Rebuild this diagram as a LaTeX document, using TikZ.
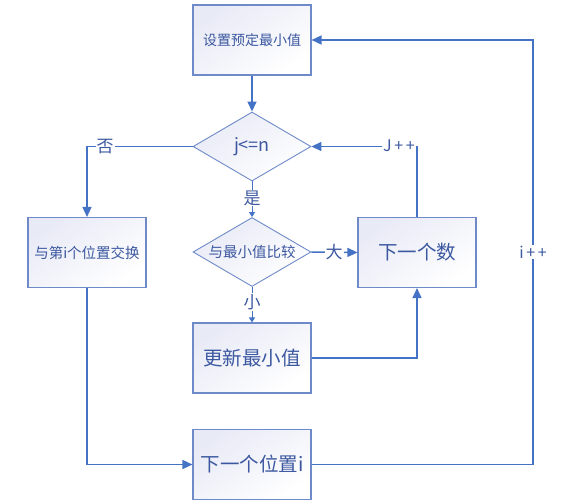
\documentclass[tikz,border=0pt]{standalone}
\usepackage{fontspec}
\setmainfont{Noto Sans CJK SC}
\usetikzlibrary{shapes.geometric,arrows.meta}
\definecolor{linec}{RGB}{68,114,196}
\definecolor{borderc}{RGB}{110,138,200}
\definecolor{txtc}{RGB}{60,88,160}
\definecolor{shadec}{RGB}{232,234,246}
\tikzset{
  boxnode/.style={rectangle, draw=borderc, line width=1.1pt, minimum width=118pt, minimum height=70pt, inner sep=0pt,
    shading=axis, top color=shadec, bottom color=white, shading angle=35, text=txtc},
  dianode/.style={diamond, draw=borderc, line width=0.9pt, minimum width=118pt, minimum height=69pt, inner sep=0pt,
    shading=axis, top color=shadec, bottom color=white, shading angle=35},
  conn/.style={draw=linec, line width=1.5pt, -{Triangle[length=10pt,width=9pt]}},
  connsmall/.style={draw=linec, line width=1pt, -{Triangle[length=5pt,width=6pt]}},
  lbl/.style={fill=white, text=txtc, inner sep=1pt, font=\fontsize{17}{17}\selectfont},
}
\begin{document}
\begin{tikzpicture}[x=1pt,y=-1pt]
\useasboundingbox (0,0) rectangle (574,504);
\node[boxnode, font=\fontsize{14}{14}\selectfont] (init) at (252,40) {设置预定最小值};
\node[dianode, label={[text=txtc, font=\fontsize{18}{18}\selectfont]center:j<=n}] (cond) at (252,146.5) {};
\node[dianode, label={[text=txtc, font=\fontsize{14.5}{14.5}\selectfont]center:与最小值比较}] (cmp) at (252,252) {};
\node[boxnode, font=\fontsize{14.5}{14.5}\selectfont] (swap) at (87,252.5) {与第i个位置交换};
\node[boxnode, font=\fontsize{19.5}{19.5}\selectfont] (next) at (417,252.5) {下一个数};
\node[boxnode, font=\fontsize{19.5}{19.5}\selectfont] (upd) at (252,358) {更新最小值};
\node[boxnode, font=\fontsize{19.5}{19.5}\selectfont] (nextpos) at (252,464.5) {下一个位置i};
\coordinate (cL) at (87,146.5);
\coordinate (cJ) at (417,146.5);
\coordinate (cU) at (417,358);
\coordinate (cS) at (87,464.5);
\coordinate (cR1) at (533,464.5);
\coordinate (cR2) at (533,40);
% connectors
\draw[conn] (init.south) -- (cond.north);
\draw[conn] (cond.west) -- (cL) -- (swap.north);
\draw[connsmall] (cond.south) -- (cmp.north);
\draw[conn] (cmp.east) -- (next.west);
\draw[connsmall] (cmp.south) -- (upd.north);
\draw[conn] (upd.east) -- (cU) -- (next.south);
\draw[conn] (next.north) -- (cJ) -- (cond.east);
\draw[conn] (swap.south) -- (cS) -- (nextpos.west);
\draw[conn] (nextpos.east) -- (cR1) -- (cR2) -- (init.east);
% labels
\node[lbl] (lno) at (105,147) {否};
\node[lbl] (lyes) at (252,198) {是};
\node[lbl] (lbig) at (334,252) {大};
\node[lbl] (lsmall) at (252,302) {小};
\node[lbl, font=\fontsize{16}{16}\selectfont] (ljpp) at (399,146) {J\,+\,+};
\node[lbl, font=\fontsize{16}{16}\selectfont] (lipp) at (533,252) {i\,+\,+};
\end{tikzpicture}
\end{document}
